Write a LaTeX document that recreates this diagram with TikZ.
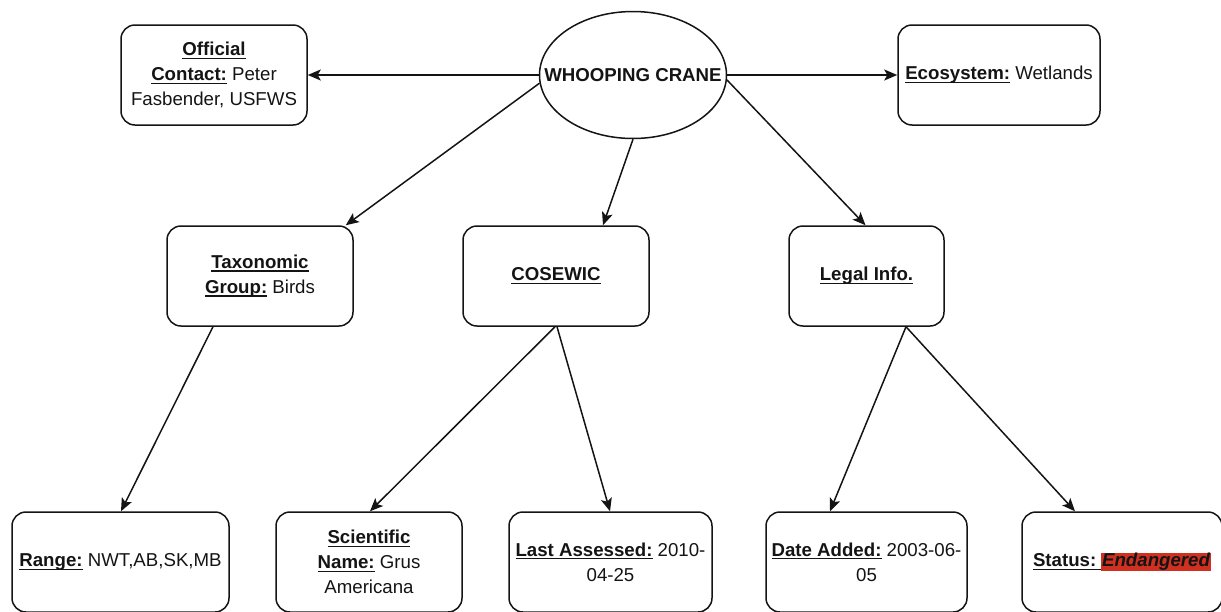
\documentclass[tikz,border=0pt]{standalone}
\usepackage{fontspec}
\setmainfont{Liberation Sans}
\usetikzlibrary{arrows.meta,calc,shapes.geometric}
\definecolor{ink}{HTML}{141414}
\definecolor{redmark}{HTML}{D03020}
\def\px{*0.75pt}
% underline drawn close to the baseline
\newsavebox{\ulbox}
\newcommand{\ul}[1]{\sbox{\ulbox}{#1}\rlap{\vrule height -1.5pt depth 2.4pt width \wd\ulbox}\usebox{\ulbox}}
\newcommand{\lbl}[1]{\ul{\textbf{#1}}}
\tikzset{
  txt/.style={text=ink, font=\fontsize{14pt}{18.75pt}\selectfont},
  box/.style={txt, draw=ink, line width=1.5\px, rounded corners=14\px, align=center, inner sep=0pt},
  link/.style={draw=ink, line width=1.5\px, -{Stealth[length=13\px,width=11\px,inset=3\px]}},
}
\begin{document}
\begin{tikzpicture}[x=0.75pt,y=-0.75pt]
\useasboundingbox (0,0) rectangle (1221,611);
% hub
\node[ellipse, txt, draw=ink, line width=1.5\px, minimum width=187\px, minimum height=127\px,
  inner xsep=-24\px, inner ysep=0pt, font=\fontsize{14pt}{18.75pt}\selectfont\bfseries] (cr) at (633,75) {WHOOPING CRANE};
% first row
\node[box, minimum width=186\px, minimum height=100\px] (contact) at (214,75)
  {\lbl{Official}\\\lbl{Contact:} Peter\\Fasbender, USFWS};
\node[box, minimum width=202\px, minimum height=100\px] (eco) at (999,75)
  {\lbl{Ecosystem:} Wetlands};
% second row
\node[box, minimum width=186\px, minimum height=100\px] (tax) at (260,276)
  {\lbl{Taxonomic}\\\lbl{Group:} Birds};
\node[box, minimum width=186\px, minimum height=100\px] (cos) at (556,276)
  {\lbl{COSEWIC}};
\node[box, minimum width=155\px, minimum height=100\px] (legal) at (866.5,276)
  {\lbl{Legal Info.}};
% third row
\node[box, minimum width=217\px, minimum height=100\px] (range) at (120.5,562)
  {\lbl{Range:} NWT,AB,SK,MB};
\node[box, minimum width=186\px, minimum height=100\px] (sci) at (369,562)
  {\lbl{Scientific}\\\lbl{Name:} Grus\\Americana};
\node[box, minimum width=203\px, minimum height=100\px] (last) at (610.5,562)
  {\lbl{Last Assessed:} 2010-\\04-25};
\node[box, minimum width=201\px, minimum height=100\px] (added) at (866.5,562)
  {\lbl{Date Added:} 2003-06-\\05};
\node[box, minimum width=200\px, minimum height=100\px] (status) at (1122,562)
  {\ul{\textbf{Status:~}}{\setlength{\fboxsep}{0.5pt}\colorbox{redmark}{\textbf{\textit{Endangered}}}}};
% connectors
\draw[link] (cr.west) -- (contact.east);
\draw[link] (cr.east) -- (eco.west);
\draw[link] (cr.185) -- ($(tax.north east)+(-8,0)$);
\draw[link] (cr.south) -- ($(cos.north)+(47,0)$);
\draw[link] (cr.357) -- ($(legal.north)+(-1,0)$);
\draw[link] ($(tax.south)+(-47,0)$) -- ($(range.north)+(0.5,0)$);
\draw[link] ($(cos.south)+(-1,0)$) -- ($(sci.north)+(1,0)$);
\draw[link] ($(cos.south)+(1,0)$) -- ($(last.north)+(-0.5,0)$);
\draw[link] ($(legal.south)+(39.5,0)$) -- ($(added.north)+(-36.5,0)$);
\draw[link] ($(legal.south)+(39.5,0)$) -- ($(status.north)+(-47,0)$);
\end{tikzpicture}
\end{document}
